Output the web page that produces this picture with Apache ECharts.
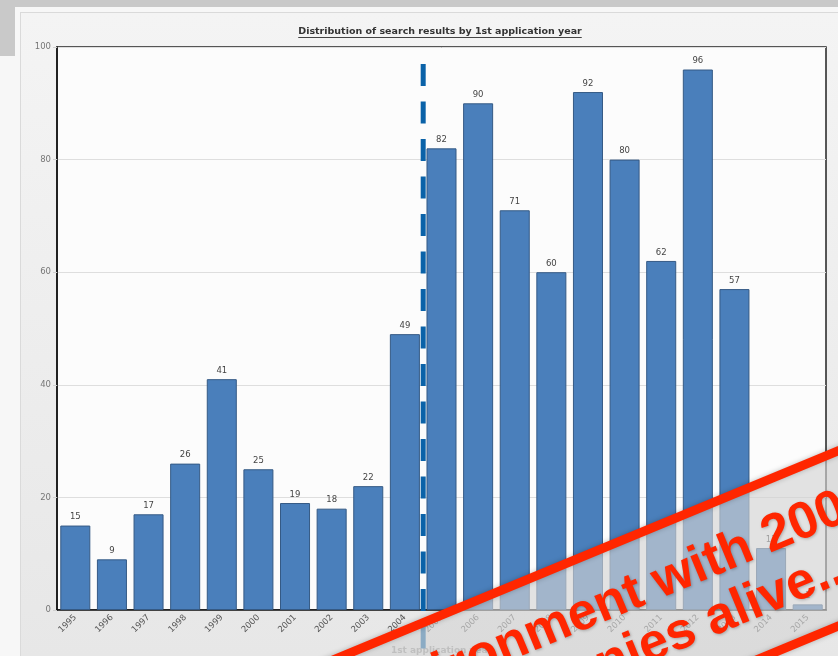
<!DOCTYPE html>
<html>
<head>
<meta charset="utf-8">
<script src="https://cdn.jsdelivr.net/npm/echarts@6/dist/echarts.min.js"></script>
<style>
  html, body { margin: 0; padding: 0; }
  body { width: 838px; height: 656px; position: relative; overflow: hidden; background: #f7f7f7; }
  #frameTop { position: absolute; left: 0; top: 0; width: 838px; height: 7px; background: #c9c9c9; }
  #frameLeft { position: absolute; left: 0; top: 0; width: 15px; height: 56px; background: #c9c9c9; }
  #panel { position: absolute; left: 20px; top: 12px; width: 818px; height: 644px;
           background: linear-gradient(#f4f4f4, #e7e7e7);
           border-top: 1px solid #dadada; border-left: 1px solid #dadada; }
  #chart { position: absolute; left: 0; top: 0; width: 838px; height: 656px; }
</style>
</head>
<body>
<div id="frameTop"></div>
<div id="frameLeft"></div>
<div id="panel"></div>
<div id="chart"></div>
<script>
// First application year and number of search results per year
const years = ['1995', '1996', '1997', '1998', '1999', '2000', '2001', '2002', '2003', '2004',
               '2005', '2006', '2007', '2008', '2009', '2010', '2011', '2012', '2013', '2014', '2015'];
const results = [15, 9, 17, 26, 41, 25, 19, 18, 22, 49,
                 82, 90, 71, 60, 92, 80, 62, 96, 57, 11, 1];
const yMin = 0, yMax = 100, yStep = 20;

const titleText = 'Distribution of search results by 1st application year';
const axisTitle = '1st application year';
const bannerLines = ['environment with 200', 'companies alive...'];
// the dashed divider sits between these two years
const dividerBetween = ['2004', '2005'];

const FONT = '"DejaVu Sans", Verdana, sans-serif';

const chart = echarts.init(document.getElementById('chart'), null, { renderer: 'canvas' });

chart.setOption({
  backgroundColor: 'transparent',
  animation: false,
  grid: {
    left: 57, top: 47, right: 12, bottom: 46,
    outerBoundsMode: 'none',
    containLabel: false,
    show: true, backgroundColor: '#fcfcfc',
    borderColor: '#222', borderWidth: 1.5
  },
  xAxis: {
    type: 'category',
    data: years,
    axisLine: { lineStyle: { color: '#111', width: 1.5 } },
    axisTick: { show: false },
    axisLabel: { rotate: 45, fontSize: 8.5, color: '#555', fontFamily: FONT, margin: 6 },
    name: axisTitle,
    nameLocation: 'middle',
    nameGap: 36,
    nameTextStyle: { fontWeight: 'bold', color: '#9a9a9a', fontSize: 9, fontFamily: FONT }
  },
  yAxis: {
    type: 'value',
    min: yMin, max: yMax, interval: yStep,
    axisLine: { show: true, lineStyle: { color: '#111', width: 1.5 } },
    axisTick: { show: true, length: 4, lineStyle: { color: '#d0d0d0' } },
    axisLabel: { fontSize: 8.5, color: '#777', fontFamily: FONT, margin: 6 },
    splitLine: { lineStyle: { color: '#dedede', width: 1 } }
  },
  series: [{
    type: 'bar',
    data: results,
    barCategoryGap: '18%',
    itemStyle: { color: '#4a7fbb', borderColor: '#355a85', borderWidth: 1 },
    label: { show: true, position: 'top', distance: 4, fontSize: 8.5, color: '#444', fontFamily: FONT }
  }]
});

// measure title width for the underline
const ctx = document.createElement('canvas').getContext('2d');
const titleFont = 'bold 9.5px ' + FONT;
ctx.font = titleFont;
const titleW = ctx.measureText(titleText).width;
const titleX = 440, titleY = 32;

// divider position from the axes
const xa = chart.convertToPixel({ xAxisIndex: 0 }, dividerBetween[0]);
const xb = chart.convertToPixel({ xAxisIndex: 0 }, dividerBetween[1]);
const xDiv = (xa + xb) / 2;
const yDivTop = chart.convertToPixel({ yAxisIndex: 0 }, 97);

const RED = '#ff2600';
const bannerFont = 'bold 52px "Liberation Sans", Arial, sans-serif';
const bannerTextStyle = {
  font: bannerFont, fill: RED,
  align: 'right', verticalAlign: 'middle', textAlign: 'right', textVerticalAlign: 'middle',
  textShadowBlur: 3, textShadowColor: 'rgba(0,0,0,0.25)', textShadowOffsetX: 1, textShadowOffsetY: 1
};

chart.setOption({
  graphic: [
    {
      type: 'text', z: 10,
      style: { text: titleText, x: titleX, y: titleY, font: titleFont, fill: '#333',
               align: 'center', verticalAlign: 'middle', textAlign: 'center', textVerticalAlign: 'middle' }
    },
    {
      type: 'line', z: 10,
      shape: { x1: titleX - titleW / 2, y1: titleY + 5.5, x2: titleX + titleW / 2, y2: titleY + 5.5 },
      style: { stroke: '#444', lineWidth: 1 }
    },
    {
      type: 'line', z: 50,
      shape: { x1: xDiv, y1: yDivTop, x2: xDiv, y2: 656 },
      style: { stroke: '#0a62a8', lineWidth: 5, lineDash: [22, 15.5] }
    },
    {
      type: 'group', z: 100,
      x: 838, y: 538.5,
      rotation: 22.5 * Math.PI / 180,
      children: [
        {
          type: 'rect', z: 100,
          shape: { x: -900, y: -81, width: 1250, height: 162 },
          style: { fill: 'rgba(234,234,234,0.58)', stroke: RED, lineWidth: 9,
                   shadowBlur: 5, shadowColor: 'rgba(0,0,0,0.25)' }
        },
        {
          type: 'text', z: 101,
          style: Object.assign({ text: bannerLines[0], x: 18, y: -27 }, bannerTextStyle)
        },
        {
          type: 'text', z: 101,
          style: Object.assign({ text: bannerLines[1], x: 6, y: 28 }, bannerTextStyle)
        }
      ]
    }
  ]
});
</script>
</body>
</html>
